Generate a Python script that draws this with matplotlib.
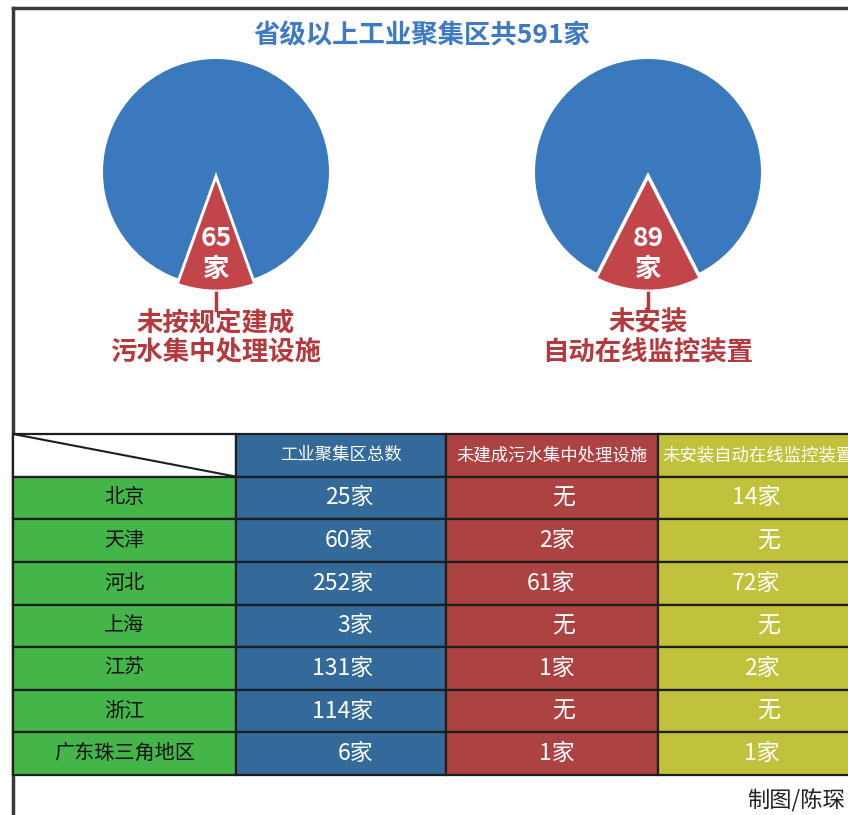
import matplotlib.pyplot as plt
from matplotlib.patches import Rectangle

plt.rcParams['font.family'] = ['Noto Sans CJK SC', 'DejaVu Sans']

W, H = 848, 815

title = '省级以上工业聚集区共591家'
total = 591
pie_counts = [65, 89]
pie_labels = [['未按规定建成', '污水集中处理设施'], ['未安装', '自动在线监控装置']]

header = ['工业聚集区总数', '未建成污水集中处理设施', '未安装自动在线监控装置']
regions = ['北京', '天津', '河北', '上海', '江苏', '浙江', '广东珠三角地区']
col_total = ['25家', '60家', '252家', '3家', '131家', '114家', '6家']
col_sewage = ['无', '2家', '61家', '无', '1家', '无', '1家']
col_monitor = ['14家', '无', '72家', '无', '2家', '无', '1家']
credit = '制图/陈琛'

blue_pie = '#3b79be'
red_pie = '#c2454a'
label_red = '#b5393c'
title_blue = '#3d7ac3'
cell_colors = ['#44b649', '#336a99', '#ad4243', '#c1c23c']


def px_rect(x0, y0, x1, y1):
    # pixel box (top-left origin) -> figure fraction
    return [x0 / W, 1 - y1 / H, (x1 - x0) / W, (y1 - y0) / H]


fig = plt.figure(figsize=(W / 100, H / 100), dpi=100)
bg = fig.add_axes([0, 0, 1, 1])
bg.set_xlim(0, W)
bg.set_ylim(H, 0)
bg.axis('off')

# outer frame (top and left only, the rest is cut off)
bg.plot([13, 13], [H + 5, 8], color='#3a3a3a', lw=2.5, solid_capstyle='projecting')
bg.plot([13, W + 5], [8, 8], color='#3a3a3a', lw=2.5, solid_capstyle='projecting')

bg.text(422, 36, title, ha='center', va='center', fontsize=19, fontweight='bold',
        color=title_blue)

centers = [216, 648]
for cx, n, lab in zip(centers, pie_counts, pie_labels):
    r = 113
    span = 140
    ax = fig.add_axes(px_rect(cx - span, 172 - span, cx + span, 172 + span))
    frac = n / total
    wedges, _ = ax.pie([n, total - n], colors=[red_pie, blue_pie],
                       startangle=270 - 360 * frac / 2, counterclock=True,
                       explode=[0.05, 0], radius=1)
    wedges[0].set_edgecolor('white')
    wedges[0].set_linewidth(1.5)
    lim = span / r
    ax.set_xlim(-lim, lim)
    ax.set_ylim(-lim, lim)
    ax.set_aspect('equal')
    ax.axis('off')
    ax.text(0, -0.59, str(n), ha='center', va='center', fontsize=19,
            fontweight='bold', color='white')
    ax.text(0, -0.86, '家', ha='center', va='center', fontsize=19,
            fontweight='bold', color='white')
    bg.plot([cx, cx], [286, 310], color=label_red, lw=2.5)
    bg.text(cx, 323, lab[0], ha='center', va='center', fontsize=19,
            fontweight='bold', color=label_red)
    bg.text(cx, 353, lab[1], ha='center', va='center', fontsize=19,
            fontweight='bold', color=label_red)

# table
col_w = [223, 210, 212, 212]
edges = [0]
for w_ in col_w:
    edges.append(edges[-1] + w_)
nrows = len(regions) + 1
tab = fig.add_axes(px_rect(13, 434, 13 + edges[-1], 775))
tab.set_xlim(0, edges[-1])
tab.set_ylim(nrows, 0)
tab.axis('off')

columns = [regions, col_total, col_sewage, col_monitor]
right_pos = [None, 360, 562, 767]
for j in range(4):
    for i in range(nrows):
        fc = 'white' if (i == 0 and j == 0) else cell_colors[j]
        tab.add_patch(Rectangle((edges[j], i), col_w[j], 1, facecolor=fc,
                                edgecolor='#1e1e1e', lw=1.6, clip_on=False))
        if i == 0:
            if j == 3:
                # last header runs past the right edge, as in the print
                tab.text(edges[j] + 4, 0.5, header[j - 1], ha='left',
                         va='center', fontsize=12.5, color='white')
            elif j > 0:
                tab.text(edges[j] + col_w[j] / 2, 0.5, header[j - 1], ha='center',
                         va='center', fontsize=12.5, color='white')
            continue
        val = columns[j][i - 1]
        if j == 0:
            tab.text(edges[j] + col_w[j] / 2, i + 0.5, val, ha='center', va='center',
                     fontsize=14.5, color='#111111')
        else:
            tab.text(right_pos[j], i + 0.5, val, ha='right', va='center',
                     fontsize=16.5, color='white')

# diagonal in the corner cell
tab.plot([edges[0], edges[1]], [0, 1], color='#1e1e1e', lw=1.5)

bg.text(845, 801, credit, ha='right', va='center', fontsize=16, color='#222222')

fig.savefig('out.png', dpi=100)
